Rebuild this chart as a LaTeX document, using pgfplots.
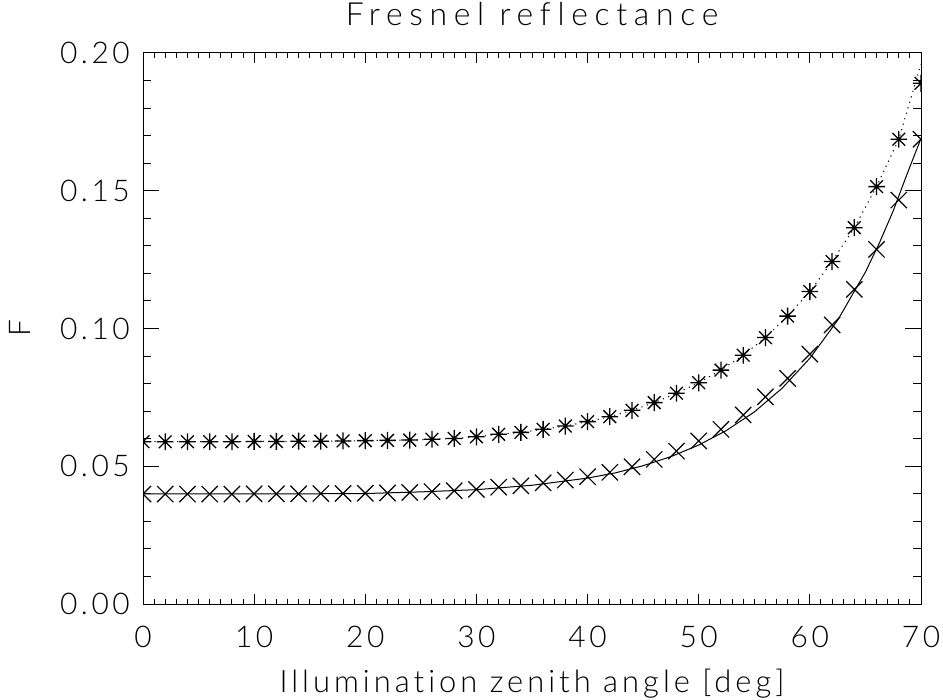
\documentclass[border=0pt]{standalone}
\usepackage{fontspec}
\setmainfont{Lato}[UprightFont=* Light, LetterSpace=12, Ligatures=NoCommon]
\usepackage{pgfplots}
\pgfplotsset{compat=1.18}

\newcommand\ff{\fontsize{30}{36}\selectfont}
\newcommand\lf{\fontsize{31}{37}\selectfont\addfontfeatures{LetterSpace=13}}
\newcommand\tf{\fontsize{32}{38}\selectfont\addfontfeatures{LetterSpace=21}}

% IDL style asterisk: plus and cross
\pgfdeclareplotmark{idlstar}{%
  \pgfpathmoveto{\pgfqpoint{0pt}{1.13\pgfplotmarksize}}%
  \pgfpathlineto{\pgfqpoint{0pt}{-1.13\pgfplotmarksize}}%
  \pgfpathmoveto{\pgfqpoint{1.1\pgfplotmarksize}{0pt}}%
  \pgfpathlineto{\pgfqpoint{-1.1\pgfplotmarksize}{0pt}}%
  \pgfpathmoveto{\pgfqpoint{0.85\pgfplotmarksize}{0.85\pgfplotmarksize}}%
  \pgfpathlineto{\pgfqpoint{-0.85\pgfplotmarksize}{-0.85\pgfplotmarksize}}%
  \pgfpathmoveto{\pgfqpoint{0.85\pgfplotmarksize}{-0.85\pgfplotmarksize}}%
  \pgfpathlineto{\pgfqpoint{-0.85\pgfplotmarksize}{0.85\pgfplotmarksize}}%
  \pgfusepathqstroke}

\begin{document}
\begin{tikzpicture}
\begin{axis}[
    scale only axis,
    width=778bp, height=551bp,
    xmin=0, xmax=70, ymin=0, ymax=0.2,
    xtick={0,10,...,70}, minor x tick num=9,
    ytick={0,0.05,0.1,0.15,0.2}, minor y tick num=4,
    tick align=inside,
    axis line style={line width=1bp},
    tick style={line width=1bp, black},
    major tick length=16bp, minor tick length=8bp,
    xtick style={/pgfplots/major tick length=10bp, /pgfplots/minor tick length=5bp},
    /pgf/number format/assume math mode=true,
    yticklabel style={font=\ff, inner sep=0pt, anchor=east, xshift=-13bp,
        /pgf/number format/.cd, fixed, fixed zerofill, precision=2},
    xticklabel style={font=\ff, inner sep=0pt, anchor=base, yshift=-43bp},
    title={\tf Fresnel reflectance},
    title style={at={(0.5,1)}, anchor=base, yshift=22bp, inner sep=0pt},
    xlabel={\lf Illumination zenith angle [deg]},
    xlabel style={at={(0.5,0)}, anchor=base, yshift=-88bp, inner sep=0pt},
    ylabel={\ff F},
    ylabel style={at={([xshift=-112bp]axis description cs:0,0.5)}, anchor=base, rotate=0, inner sep=0pt},
    clip marker paths=true,
]

% solid curve
\addplot[black, line width=1bp] coordinates {
 (0,0.0400) (10,0.0400) (15,0.0400) (20,0.0401) (25,0.0407) (30,0.0415)
 (35,0.0431) (40,0.0457) (42.5,0.0476) (45,0.0502) (47.5,0.0535) (50,0.0577)
 (52.5,0.0630) (55,0.0697) (57.5,0.0783) (60,0.0892) (62.5,0.1030) (65,0.1205)
 (66.25,0.1310) (67.5,0.1427) (68.75,0.1561) (70,0.1690)
};

% dotted curve
\addplot[black, line width=1bp, dash pattern=on 1.2bp off 4.5bp] coordinates {
 (0,0.0589) (2,0.0589) (4,0.0589) (6,0.0589) (8,0.0589) (10,0.0590)
 (12,0.0590) (14,0.0591) (16,0.0591) (18,0.0592) (20,0.0593) (22,0.0594)
 (24,0.0595) (26,0.0598) (28,0.0601) (30,0.0607) (32,0.0616) (34,0.0623)
 (36,0.0634) (38,0.0646) (40,0.0662) (42,0.0680) (44,0.0703) (46,0.0731)
 (48,0.0765) (50,0.0803) (52,0.0849) (54,0.0903) (56,0.0967) (58,0.1045)
 (60,0.1134) (62,0.1243) (64,0.1366) (66,0.1515) (68,0.1687) (70,0.1960)
};

% crosses
\addplot[black, only marks, mark=x, mark size=11.5bp, mark options={line width=1.2bp}] coordinates {
 (0,0.0399) (2,0.0399) (4,0.0399) (6,0.0399) (8,0.0399) (10,0.0400)
 (12,0.0400) (14,0.0400) (16,0.0401) (18,0.0401) (20,0.0402) (22,0.0403)
 (24,0.0405) (26,0.0408) (28,0.0411) (30,0.0416) (32,0.0424) (34,0.0429)
 (36,0.0440) (38,0.0450) (40,0.0462) (42,0.0478) (44,0.0498) (46,0.0525)
 (48,0.0555) (50,0.0592) (52,0.0634) (54,0.0686) (56,0.0752) (58,0.0819)
 (60,0.0907) (62,0.1013) (64,0.1142) (66,0.1287) (68,0.1466) (70,0.1687)
};

% asterisks
\addplot[black, only marks, mark=idlstar, mark size=7.5bp, mark options={line width=1.3bp}] coordinates {
 (0,0.0589) (2,0.0589) (4,0.0589) (6,0.0589) (8,0.0589) (10,0.0590)
 (12,0.0590) (14,0.0591) (16,0.0591) (18,0.0592) (20,0.0593) (22,0.0594)
 (24,0.0595) (26,0.0598) (28,0.0601) (30,0.0607) (32,0.0616) (34,0.0623)
 (36,0.0634) (38,0.0646) (40,0.0662) (42,0.0680) (44,0.0703) (46,0.0731)
 (48,0.0765) (50,0.0803) (52,0.0849) (54,0.0903) (56,0.0967) (58,0.1045)
 (60,0.1134) (62,0.1243) (64,0.1366) (66,0.1515) (68,0.1687) (70,0.1890)
};

\end{axis}
\pgfresetboundingbox
\path ([shift={(-143bp,-95bp)}]current axis.south west) rectangle ([shift={(22bp,53bp)}]current axis.north east);
\end{tikzpicture}
\end{document}
